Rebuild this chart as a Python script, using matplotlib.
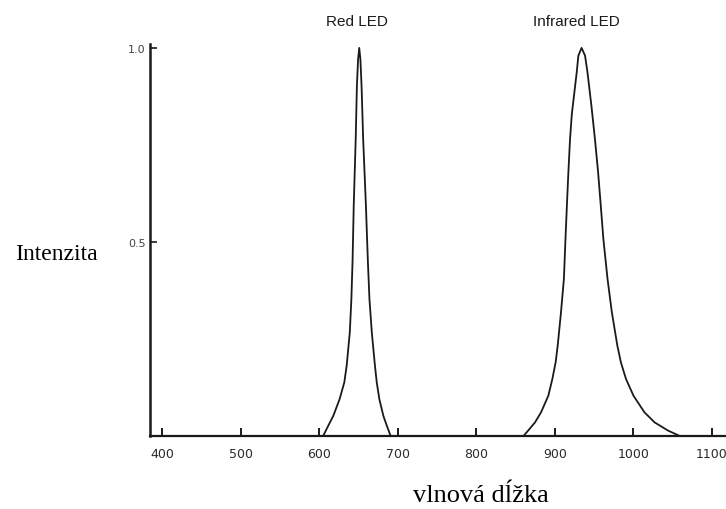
# Emission spectra of the red and infrared LED (scanned figure redrawn)
import matplotlib
matplotlib.use('Agg')
import matplotlib.pyplot as plt
import matplotlib.transforms as mtransforms

# Data (wavelength in nm, relative intensity)
red_nm = [605, 608, 611.7, 618, 626, 632, 635, 639, 641, 642.5, 644, 646.5, 648, 649.5, 651,
          652.5, 654, 656, 659.5, 662, 664, 667, 671, 673.3, 676.6, 681.7, 686, 691]
red_int = [0.0, 0.012, 0.027, 0.052, 0.095, 0.138, 0.181, 0.267, 0.353, 0.45, 0.594, 0.765, 0.9, 0.97, 1.0,
           0.97, 0.9, 0.765, 0.594, 0.45, 0.353, 0.267, 0.181, 0.138, 0.095, 0.052, 0.027, 0.0]

ir_nm = [860, 866, 874.7, 882.4, 891.7, 896.8, 901, 903.6, 907.8, 911.5, 913.5, 915.3, 917.2,
         919.3, 921.6, 924.8, 927.8, 929.9, 934, 938.4, 941.5, 946.5, 951, 955, 958.4, 961.7,
         967, 972.5, 979.5, 984, 990.5, 1000, 1014, 1027, 1044, 1059]
ir_int = [0.0, 0.014, 0.035, 0.061, 0.104, 0.147, 0.19, 0.233, 0.319, 0.405, 0.508, 0.594, 0.68,
          0.765, 0.83, 0.885, 0.937, 0.98, 1.0, 0.98, 0.937, 0.851, 0.765, 0.68, 0.594, 0.508,
          0.405, 0.319, 0.233, 0.19, 0.147, 0.104, 0.061, 0.035, 0.014, 0.0]

x_ticks = [400, 500, 600, 700, 800, 900, 1000, 1100]
y_ticks = [0.5, 1.0]
y_tick_labels = ['0.5', '1.0']
peak_labels = ['Red LED', 'Infrared LED']
peak_label_x = [648, 928]

tick_font = ['Liberation Sans Narrow', 'DejaVu Sans']
ink = '#1a1a1a'

fig = plt.figure(figsize=(7.26, 5.10), dpi=100)
ax = fig.add_axes([150 / 726, 73 / 510, 576 / 726, 392 / 510])

ax.plot(red_nm, red_int, color=ink, linewidth=1.3, solid_joinstyle='round')
ax.plot(ir_nm, ir_int, color=ink, linewidth=1.3, solid_joinstyle='round')

ax.set_xlim(384.7, 1117.8)
ax.set_ylim(0, 1.01)

# only the left and bottom axis lines, ticks pointing inside
ax.spines['top'].set_visible(False)
ax.spines['right'].set_visible(False)
ax.spines['left'].set_linewidth(1.8)
ax.spines['bottom'].set_linewidth(1.6)
ax.spines['left'].set_color(ink)
ax.spines['bottom'].set_color(ink)

ax.set_xticks(x_ticks)
ax.set_xticklabels([str(v) for v in x_ticks], family=tick_font, fontsize=9)
ax.set_yticks(y_ticks)
ax.set_yticklabels(y_tick_labels, family=tick_font, fontsize=8)
ax.tick_params(axis='x', direction='in', length=6, width=1.4, pad=8, colors=ink, labelcolor='#2a2a2a')
ax.tick_params(axis='y', direction='in', length=5, width=1.2, pad=3, colors=ink, labelcolor='#444444')

# labels above the two peaks
trans = mtransforms.blended_transform_factory(ax.transData, fig.transFigure)
for lbl, xpos in zip(peak_labels, peak_label_x):
    ax.text(xpos, 1 - 22 / 510, lbl, transform=trans, ha='center', va='center',
            family=['Liberation Sans', 'DejaVu Sans'], fontsize=11, color='#1a1a1a', clip_on=False)

# axis titles in a serif face, as in the original
fig.text(15 / 726, 1 - 255 / 510, 'Intenzita', ha='left', va='center',
         family=['Liberation Serif', 'DejaVu Serif'], fontsize=17, color='black')
fig.text(481 / 726, 1 - 496 / 510, 'vlnová dĺžka', ha='center', va='center',
         family=['Liberation Serif', 'DejaVu Serif'], fontsize=19, color='black')

fig.savefig('out.png', dpi=100)
